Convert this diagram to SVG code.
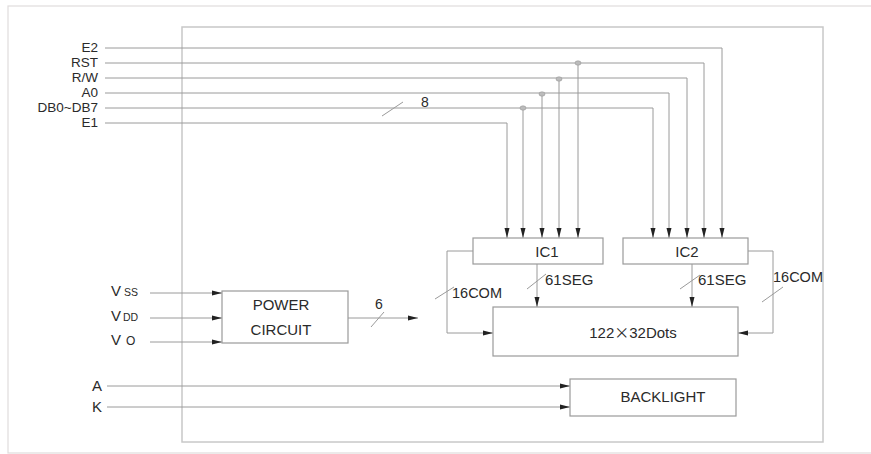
<svg xmlns="http://www.w3.org/2000/svg" width="871" height="454" viewBox="0 0 871 454">
<style>
text{font-family:"Liberation Sans",Arial,sans-serif;fill:#2a2a2a;}
.ln{stroke:#9a9a9a;stroke-width:1;fill:none;}
.ar{marker-end:url(#ah);}
.box{fill:#fff;stroke:#9a9a9a;stroke-width:1.2;}
.sig{font-size:13.5px;text-anchor:end;}
.lab{font-size:15px;}
.dot{fill:#bbb;stroke:#999;stroke-width:0.6;}
.cjk{font-family:"Noto Sans CJK SC",sans-serif;}
</style>
<defs>
<marker id="ah" markerUnits="userSpaceOnUse" markerWidth="10" markerHeight="6" refX="10" refY="3" orient="auto">
<path d="M0,0.5 L10,3 L0,5.5 z" fill="#222"/>
</marker>
</defs>
<rect x="8" y="6" width="870" height="447" fill="none" stroke="#e0dcdc" stroke-width="1.2"/>
<rect x="182" y="27" width="641" height="415" fill="none" stroke="#c8c8c8" stroke-width="1.5"/>

<g id="connectors">
<polyline class="ln ar" points="105,48 722,48 722,238"/>
<polyline class="ln ar" points="105,63 704,63 704,238"/>
<polyline class="ln ar" points="105,78 687,78 687,238"/>
<polyline class="ln ar" points="105,93 669,93 669,238"/>
<polyline class="ln ar" points="105,108 653,108 653,238"/>
<polyline class="ln ar" points="105,123 507,123 507,238"/>
<line class="ln ar" x1="523" y1="108" x2="523" y2="238"/>
<line class="ln ar" x1="542" y1="93" x2="542" y2="238"/>
<line class="ln ar" x1="559" y1="78" x2="559" y2="238"/>
<line class="ln ar" x1="578" y1="63" x2="578" y2="238"/>
<ellipse class="dot" cx="523" cy="108" rx="3" ry="2.2"/>
<ellipse class="dot" cx="542" cy="94" rx="3" ry="2.2"/>
<ellipse class="dot" cx="559" cy="79" rx="3" ry="2.2"/>
<ellipse class="dot" cx="578" cy="63" rx="3" ry="2.2"/>
<line class="ln" x1="382" y1="116" x2="403" y2="102"/>
<text x="421" y="107" style="font-size:14px">8</text>
<line class="ln ar" x1="150" y1="293" x2="222" y2="293"/>
<line class="ln ar" x1="150" y1="318" x2="222" y2="318"/>
<line class="ln ar" x1="150" y1="342" x2="222" y2="342"/>
<line class="ln ar" x1="348" y1="318" x2="418" y2="318"/>
<line class="ln" x1="371" y1="327" x2="384" y2="312"/>
<text x="375" y="309" style="font-size:14px">6</text>
<polyline class="ln ar" points="473,251 447,251 447,333 493,333"/>
<line class="ln" x1="435" y1="299" x2="454" y2="287"/>
<text x="452" y="298" style="font-size:14.5px">16COM</text>
<line class="ln ar" x1="537" y1="264" x2="537" y2="307"/>
<line class="ln" x1="527" y1="289" x2="546" y2="274"/>
<text x="545" y="285" style="font-size:15px">61SEG</text>
<line class="ln ar" x1="692" y1="264" x2="692" y2="307"/>
<line class="ln" x1="680" y1="289" x2="700" y2="275"/>
<text x="698" y="285" style="font-size:15px">61SEG</text>
<polyline class="ln ar" points="748,251 773,251 773,333 738,333"/>
<line class="ln" x1="762" y1="302" x2="783" y2="287"/>
<text x="773" y="282" style="font-size:14.5px">16COM</text>
<line class="ln ar" x1="107" y1="386" x2="570" y2="386"/>
<line class="ln ar" x1="107" y1="407" x2="570" y2="407"/>
</g>

<g id="labels">
<text class="sig" x="98" y="52">E2</text>
<text class="sig" x="98" y="67">RST</text>
<text class="sig" x="98" y="82">R/W</text>
<text class="sig" x="98" y="97">A0</text>
<text class="sig" x="98" y="112">DB0~DB7</text>
<text class="sig" x="98" y="127">E1</text>
<text x="111" y="296" style="font-size:15px">V<tspan x="124" style="font-size:10.5px">SS</tspan></text>
<text x="111" y="321" style="font-size:15px">V<tspan x="123" style="font-size:10.5px">DD</tspan></text>
<text x="111" y="345" style="font-size:15px">V<tspan x="126" style="font-size:12px">O</tspan></text>
<text x="92" y="391" style="font-size:15px">A</text>
<text x="92" y="412" style="font-size:15px">K</text>
</g>

<g id="ic1">
<rect class="box" x="473" y="238" width="130" height="26"/>
<text class="lab" x="547" y="257" text-anchor="middle">IC1</text>
</g>
<g id="ic2">
<rect class="box" x="623" y="238" width="125" height="26"/>
<text class="lab" x="687" y="257" text-anchor="middle">IC2</text>
</g>
<g id="dots">
<rect class="box" x="493" y="307" width="245" height="49"/>
<text class="lab" x="633" y="338" text-anchor="middle">122<tspan class="cjk">×</tspan>32Dots</text>
</g>
<g id="power">
<rect class="box" x="222" y="291" width="126" height="52"/>
<text class="lab" x="281" y="310" text-anchor="middle">POWER</text>
<text class="lab" x="281" y="335" text-anchor="middle">CIRCUIT</text>
</g>
<g id="backlight">
<rect class="box" x="570" y="379" width="166" height="37"/>
<text class="lab" x="663" y="402" text-anchor="middle">BACKLIGHT</text>
</g>
</svg>
